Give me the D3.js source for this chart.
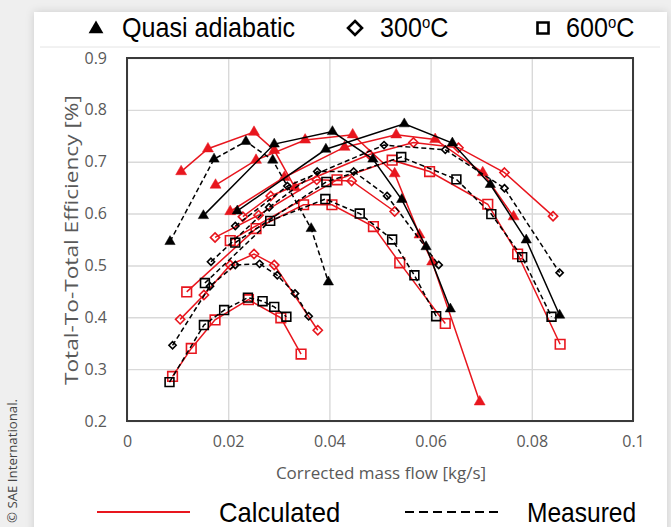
<!DOCTYPE html>
<html><head><meta charset="utf-8">
<script src="https://cdn.jsdelivr.net/npm/d3@7"></script>
<style>html,body{margin:0;padding:0;background:#efefef;} svg{display:block;}</style>
</head><body><svg id="c" width="671" height="527"></svg>
<script>
// ---------- data ----------
const xTicks=[0,0.02,0.04,0.06,0.08,0.1];
const yTicks=[0.2,0.3,0.4,0.5,0.6,0.7,0.8,0.9];
// Quasi adiabatic (triangles)
const qaCalcLow=[[0.0107,0.681],[0.0160,0.725],[0.0251,0.757],[0.0291,0.722],[0.0332,0.650]];
const qaCalcMid=[[0.0175,0.655],[0.0255,0.703],[0.0352,0.742],[0.0446,0.752],[0.0529,0.677],[0.0578,0.559],[0.0603,0.507],[0.0697,0.237]];
const qaCalcHigh=[[0.0204,0.604],[0.0311,0.670],[0.0430,0.728],[0.0532,0.752],[0.0609,0.743],[0.0703,0.679],[0.0764,0.594]];
const qaMeasLow=[[0.0085,0.546],[0.0172,0.705],[0.0235,0.739],[0.0288,0.703],[0.0364,0.571],[0.0398,0.468]];
const qaMeasMid=[[0.0151,0.596],[0.0291,0.734],[0.0406,0.758],[0.0486,0.705],[0.0543,0.627],[0.0591,0.536],[0.0639,0.416]];
const qaMeasHigh=[[0.0218,0.605],[0.0393,0.724],[0.0548,0.773],[0.0643,0.736],[0.0718,0.656],[0.0789,0.549],[0.0855,0.404]];
// 300 C (diamonds)
const t300CalcLow=[[0.0105,0.396],[0.0152,0.443],[0.0204,0.501],[0.0251,0.522],[0.0291,0.501],[0.0377,0.375]];
const t300CalcMid=[[0.0174,0.554],[0.0260,0.597],[0.0375,0.665],[0.0444,0.663],[0.0529,0.604]];
const t300CalcHigh=[[0.0229,0.594],[0.0284,0.634],[0.0479,0.714],[0.0566,0.737],[0.0655,0.727],[0.0746,0.679],[0.0842,0.595]];
const t300MeasLow=[[0.0090,0.346],[0.0164,0.460],[0.0214,0.501],[0.0262,0.503],[0.0297,0.481],[0.0332,0.446],[0.0359,0.402]];
const t300MeasMid=[[0.0166,0.507],[0.0281,0.612],[0.0376,0.681],[0.0448,0.681],[0.0514,0.634],[0.0616,0.501]];
const t300MeasHigh=[[0.0214,0.576],[0.0317,0.653],[0.0508,0.732],[0.0629,0.723],[0.0746,0.649],[0.0855,0.486]];
// 600 C (squares)
const t600CalcLow=[[0.0090,0.286],[0.0127,0.340],[0.0174,0.395],[0.0240,0.434],[0.0304,0.399],[0.0344,0.329]];
const t600CalcMid=[[0.0118,0.449],[0.0255,0.571],[0.0349,0.617],[0.0405,0.617],[0.0487,0.575],[0.0539,0.505],[0.0629,0.388]];
const t600CalcHigh=[[0.0204,0.548],[0.0415,0.665],[0.0524,0.703],[0.0598,0.681],[0.0713,0.618],[0.0772,0.522],[0.0856,0.348]];
const t600MeasLow=[[0.0084,0.275],[0.0152,0.385],[0.0192,0.414],[0.0239,0.438],[0.0268,0.431],[0.0291,0.420],[0.0315,0.401]];
const t600MeasMid=[[0.0154,0.466],[0.0283,0.586],[0.0392,0.628],[0.0460,0.600],[0.0524,0.550],[0.0568,0.481],[0.0611,0.402]];
const t600MeasHigh=[[0.0214,0.544],[0.0394,0.661],[0.0542,0.709],[0.0651,0.666],[0.0720,0.599],[0.0781,0.516],[0.0839,0.401]];

const legendTop=["Quasi adiabatic","300","600"];
const legendBottom=["Calculated","Measured"];
const xTitle="Corrected mass flow [kg/s]";
const yTitle="Total-To-Total Efficiency [%]";
const credit="© SAE International.";

// ---------- styles ----------
const RED="#e8161e", BLACK="#000";
const series=[
  {d:qaCalcLow,c:RED,dash:null,m:"tri"},{d:qaCalcMid,c:RED,dash:null,m:"tri"},{d:qaCalcHigh,c:RED,dash:null,m:"tri"},
  {d:t300CalcLow,c:RED,dash:null,m:"dia"},{d:t300CalcMid,c:RED,dash:null,m:"dia"},{d:t300CalcHigh,c:RED,dash:null,m:"dia"},
  {d:t600CalcLow,c:RED,dash:null,m:"sq"},{d:t600CalcMid,c:RED,dash:null,m:"sq"},{d:t600CalcHigh,c:RED,dash:null,m:"sq"},
  {d:qaMeasLow,c:BLACK,dash:"5,3",m:"tri"},{d:qaMeasMid,c:BLACK,dash:null,m:"tri"},{d:qaMeasHigh,c:BLACK,dash:null,m:"tri"},
  {d:t300MeasLow,c:BLACK,dash:"5,3",m:"dia"},{d:t300MeasMid,c:BLACK,dash:"5,3",m:"dia"},{d:t300MeasHigh,c:BLACK,dash:"5,3",m:"dia"},
  {d:t600MeasLow,c:BLACK,dash:"5,3",m:"sq"},{d:t600MeasMid,c:BLACK,dash:"5,3",m:"sq"},{d:t600MeasHigh,c:BLACK,dash:"5,3",m:"sq"}
];

const svg=d3.select('#c');
const defs=svg.append('defs');
const f=defs.append('filter').attr('id','sh').attr('x','-5%').attr('y','-5%').attr('width','110%').attr('height','110%');
f.append('feDropShadow').attr('dx',0).attr('dy',0).attr('stdDeviation',4).attr('flood-color','#000').attr('flood-opacity',0.15);
svg.append('rect').attr('width',671).attr('height',527).attr('fill','#efefef');
svg.append('rect').attr('x',34).attr('y',12).attr('width',633).attr('height',540).attr('fill','#fff').attr('filter','url(#sh)');

// credit
svg.append('text').attr('transform','translate(17,523) rotate(-90)')
  .attr('font-family','Open Sans, sans-serif').attr('font-size',13).attr('fill','#444')
  .attr('textLength',124).attr('lengthAdjust','spacingAndGlyphs').text(credit);

// separator under legend
svg.append('line').attr('x1',40).attr('x2',660).attr('y1',47).attr('y2',47).attr('stroke','#e4e4e4').attr('stroke-width',1);

const x=d3.scaleLinear().domain([0,0.1]).range([127,633]);
const y=d3.scaleLinear().domain([0.2,0.9]).range([421,58]);

// grid
const gx=svg.append('g').attr('transform','translate(0,421)')
  .call(d3.axisBottom(x).tickValues(xTicks).tickSize(-(421-58)).tickFormat(''));
gx.select('.domain').remove();
gx.selectAll('line').attr('stroke','#d9d9d9').attr('stroke-width',1.4);
const gy=svg.append('g').attr('transform','translate(127,0)')
  .call(d3.axisLeft(y).tickValues(yTicks).tickSize(-(633-127)).tickFormat(''));
gy.select('.domain').remove();
gy.selectAll('line').attr('stroke','#d9d9d9').attr('stroke-width',1.4);

// frame
svg.append('rect').attr('x',127).attr('y',58).attr('width',506).attr('height',363)
  .attr('fill','none').attr('stroke','#3a3a3a').attr('stroke-width',2);

// tick labels
const fmtX=d=>d===0?'0':(d===0.1?'0.1':d3.format('.2f')(d));
const ax=svg.append('g').attr('transform','translate(0,421)')
  .call(d3.axisBottom(x).tickValues(xTicks).tickSize(0).tickPadding(15).tickFormat(fmtX));
ax.select('.domain').remove();
ax.selectAll('text').attr('font-family','Open Sans, sans-serif').attr('font-size',16).attr('fill','#595959');
const ay=svg.append('g').attr('transform','translate(127,0)')
  .call(d3.axisLeft(y).tickValues(yTicks).tickSize(0).tickPadding(20).tickFormat(d3.format('.1f')));
ay.select('.domain').remove();
ay.selectAll('text').attr('font-family','Open Sans, sans-serif').attr('font-size',16).attr('fill','#595959');

// titles
svg.append('text').attr('x',381).attr('y',479).attr('text-anchor','middle')
  .attr('font-family','Open Sans, sans-serif').attr('font-size',17).attr('fill','#595959').text(xTitle);
svg.append('text').attr('transform','translate(78,240) rotate(-90)').attr('text-anchor','middle')
  .attr('font-family','Open Sans, sans-serif').attr('font-size',18.5).attr('fill','#595959')
  .attr('textLength',290).attr('lengthAdjust','spacingAndGlyphs').text(yTitle);

// marker paths
function markerPath(type,red){
  if(type==='tri') return d3.symbol().type(d3.symbolTriangle).size(red?52:46)();
  if(type==='dia'){const r=red?4.6:3.6;return `M0,${-r}L${r},0L0,${r}L${-r},0Z`;}
  const h=red?4.8:4.4;return `M${-h},${-h}H${h}V${h}H${-h}Z`;
}
const line=d3.line().x(d=>x(d[0])).y(d=>y(d[1]));
const plot=svg.append('g');
series.forEach(s=>{
  const red=s.c===RED;
  const g=plot.append('g');
  g.append('path').attr('d',line(s.d)).attr('fill','none').attr('stroke',s.c)
    .attr('stroke-width',1.5).attr('stroke-dasharray',s.dash);
  const p=markerPath(s.m,red);
  g.selectAll('path.m').data(s.d).join('path').attr('class','m')
    .attr('transform',d=>`translate(${x(d[0])},${y(d[1])})`).attr('d',p)
    .attr('fill',s.m==='tri'?s.c:'none').attr('stroke',s.c).attr('stroke-width',s.m==='tri'?0.5:1.6);
});

// top legend
const lf='Liberation Sans, Arial, sans-serif';
svg.append('path').attr('transform','translate(96,29)').attr('d',d3.symbol().type(d3.symbolTriangle).size(95)()).attr('fill','#000');
svg.append('text').attr('transform','translate(122,37) scale(0.93,1)').attr('font-family',lf).attr('font-size',27).attr('fill','#000').text(legendTop[0]);
svg.append('path').attr('transform','translate(355,28)').attr('d','M0,-7L7,0L0,7L-7,0Z').attr('fill','none').attr('stroke','#000').attr('stroke-width',2.6);
const t3=svg.append('text').attr('transform','translate(380,37) scale(0.93,1)').attr('font-family',lf).attr('font-size',27).attr('fill','#000');
t3.append('tspan').text(legendTop[1]);
t3.append('tspan').attr('font-size',16).attr('dy',-9).text('o');
t3.append('tspan').attr('dy',9).text('C');
svg.append('path').attr('transform','translate(543,28)').attr('d','M-5.5,-5.5H5.5V5.5H-5.5Z').attr('fill','none').attr('stroke','#000').attr('stroke-width',2.6);
const t6=svg.append('text').attr('transform','translate(566,37) scale(0.93,1)').attr('font-family',lf).attr('font-size',27).attr('fill','#000');
t6.append('tspan').text(legendTop[2]);
t6.append('tspan').attr('font-size',16).attr('dy',-9).text('o');
t6.append('tspan').attr('dy',9).text('C');

// bottom legend
svg.append('line').attr('x1',97).attr('x2',190).attr('y1',512).attr('y2',512).attr('stroke',RED).attr('stroke-width',2.2);
svg.append('text').attr('transform','translate(219,522) scale(0.95,1)').attr('font-family',lf).attr('font-size',27).attr('fill','#000').text(legendBottom[0]);
svg.append('line').attr('x1',405).attr('x2',498).attr('y1',512).attr('y2',512).attr('stroke','#000').attr('stroke-width',2).attr('stroke-dasharray','9,5');
svg.append('text').attr('transform','translate(527,522) scale(0.91,1)').attr('font-family',lf).attr('font-size',27).attr('fill','#000').text(legendBottom[1]);
</script></body></html>
